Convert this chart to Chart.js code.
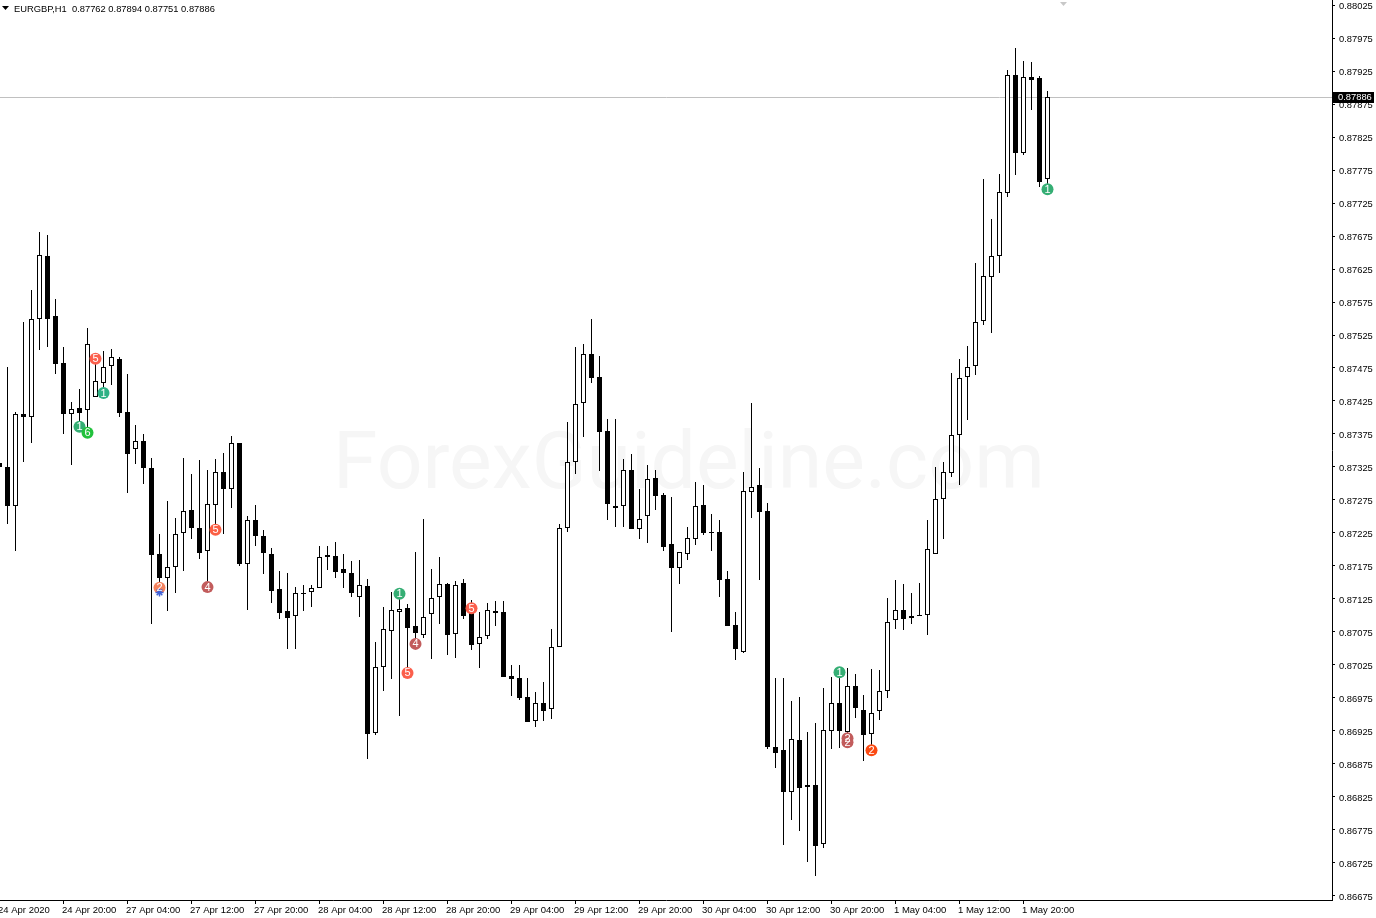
<!DOCTYPE html>
<html>
<head>
<meta charset="utf-8">
<title>EURGBP,H1</title>
<script src="https://cdn.jsdelivr.net/npm/chart.js@4/dist/chart.umd.min.js"></script>
<style>
  html, body { margin: 0; padding: 0; background: #fff; overflow: hidden; }
  canvas { display: block; }
</style>
</head>
<body>
<canvas id="chart" width="1376" height="918"></canvas>
<script>
const candleOpen = [
  0.87331,0.87325,0.87266,0.87405,0.87401,0.87549,0.87645,0.87554,0.87483,0.87405,
  0.87414,0.87411,0.87431,0.87452,0.87478,0.87489,0.87408,0.87352,0.87364,0.87323,
  0.87193,0.87157,0.87173,0.87225,0.87260,0.87233,0.87198,0.87267,0.87317,0.87292,
  0.87361,0.87178,0.87245,0.87220,0.87193,0.87140,0.87107,0.87099,0.87134,0.87136,
  0.87142,0.87189,0.87190,0.87170,0.87164,0.87128,0.87145,0.86922,0.87022,0.87077,
  0.87105,0.87111,0.87084,0.87070,0.87102,0.87128,0.87148,0.87072,0.87149,0.87119,
  0.87057,0.87069,0.87107,0.87105,0.87008,0.87005,0.86977,0.86940,0.86967,0.86958,
  0.87052,0.87233,0.87333,0.87422,0.87496,0.87461,0.87380,0.87263,0.87266,0.87320,
  0.87231,0.87251,0.87308,0.87283,0.87208,0.87172,0.87193,0.87216,0.87267,0.87227,
  0.87227,0.87155,0.87086,0.87045,0.87287,0.87298,0.87258,0.86901,0.86896,0.86833,
  0.86911,0.86840,0.86843,0.86754,0.86925,0.86967,0.86923,0.86993,0.86957,0.86920,
  0.86955,0.86986,0.87093,0.87108,0.87099,0.87101,0.87101,0.87193,0.87277,0.87316,
  0.87373,0.87461,0.87478,0.87546,0.87613,0.87645,0.87740,0.87919,0.87801,0.87916,
  0.87914,0.87762
];
const candleHigh = [
  0.87336,0.87477,0.87408,0.87545,0.87593,0.87681,0.87677,0.87580,0.87507,0.87423,
  0.87443,0.87536,0.87496,0.87501,0.87504,0.87492,0.87466,0.87389,0.87375,0.87339,
  0.87223,0.87273,0.87248,0.87339,0.87314,0.87336,0.87320,0.87337,0.87346,0.87372,
  0.87361,0.87251,0.87267,0.87230,0.87202,0.87167,0.87164,0.87143,0.87146,0.87146,
  0.87205,0.87205,0.87211,0.87193,0.87183,0.87184,0.87155,0.87060,0.87113,0.87136,
  0.87139,0.87117,0.87196,0.87246,0.87170,0.87189,0.87149,0.87152,0.87155,0.87123,
  0.87105,0.87119,0.87122,0.87122,0.87025,0.87025,0.87005,0.86984,0.86999,0.87080,
  0.87239,0.87393,0.87507,0.87511,0.87549,0.87493,0.87398,0.87398,0.87337,0.87345,
  0.87292,0.87328,0.87320,0.87286,0.87279,0.87196,0.87234,0.87302,0.87298,0.87254,
  0.87245,0.87167,0.87105,0.87317,0.87422,0.87323,0.87270,0.87005,0.87005,0.86970,
  0.86977,0.86923,0.86937,0.86990,0.87007,0.87013,0.87020,0.87011,0.86980,0.87019,
  0.87017,0.87127,0.87154,0.87148,0.87134,0.87149,0.87245,0.87325,0.87333,0.87467,
  0.87489,0.87508,0.87634,0.87761,0.87701,0.87769,0.87927,0.87960,0.87940,0.87939,
  0.87917,0.87894
];
const candleLow = [
  0.87320,0.87239,0.87198,0.87333,0.87361,0.87502,0.87507,0.87466,0.87375,0.87328,
  0.87386,0.87384,0.87431,0.87437,0.87449,0.87401,0.87286,0.87330,0.87299,0.87087,
  0.87143,0.87107,0.87134,0.87167,0.87216,0.87186,0.87149,0.87233,0.87223,0.87263,
  0.87175,0.87108,0.87205,0.87163,0.87119,0.87095,0.87049,0.87049,0.87107,0.87113,
  0.87142,0.87169,0.87157,0.87142,0.87128,0.87098,0.86883,0.86919,0.86986,0.87004,
  0.86948,0.87020,0.87063,0.87066,0.87034,0.87087,0.87040,0.87036,0.87095,0.87048,
  0.87020,0.87064,0.87084,0.87007,0.86978,0.86972,0.86939,0.86931,0.86940,0.86943,
  0.87052,0.87227,0.87314,0.87370,0.87452,0.87319,0.87245,0.87234,0.87234,0.87231,
  0.87216,0.87210,0.87260,0.87198,0.87075,0.87148,0.87184,0.87207,0.87222,0.87198,
  0.87128,0.87084,0.87033,0.87043,0.87248,0.87154,0.86898,0.86869,0.86752,0.86790,
  0.86773,0.86727,0.86705,0.86748,0.86898,0.86899,0.86916,0.86945,0.86880,0.86904,
  0.86942,0.86975,0.87080,0.87078,0.87087,0.87099,0.87070,0.87193,0.87216,0.87310,
  0.87298,0.87396,0.87464,0.87540,0.87528,0.87619,0.87734,0.87767,0.87798,0.87866,
  0.87749,0.87751
];
const candleClose = [
  0.87325,0.87266,0.87405,0.87401,0.87549,0.87646,0.87549,0.87481,0.87405,0.87413,
  0.87407,0.87511,0.87455,0.87477,0.87492,0.87407,0.87345,0.87364,0.87323,0.87192,
  0.87157,0.87173,0.87223,0.87258,0.87233,0.87195,0.87269,0.87317,0.87292,0.87361,
  0.87178,0.87245,0.87220,0.87195,0.87137,0.87104,0.87096,0.87134,0.87132,0.87142,
  0.87189,0.87192,0.87166,0.87164,0.87134,0.87146,0.86920,0.87022,0.87080,0.87108,
  0.87110,0.87081,0.87073,0.87098,0.87127,0.87148,0.87070,0.87146,0.87099,0.87055,
  0.87067,0.87108,0.87104,0.87007,0.87004,0.86975,0.86939,0.86967,0.86955,0.87052,
  0.87233,0.87333,0.87420,0.87496,0.87460,0.87378,0.87269,0.87266,0.87320,0.87231,
  0.87246,0.87307,0.87281,0.87204,0.87172,0.87196,0.87217,0.87266,0.87225,0.87226,
  0.87154,0.87084,0.87049,0.87289,0.87295,0.87257,0.86901,0.86892,0.86833,0.86913,
  0.86839,0.86843,0.86751,0.86927,0.86967,0.86925,0.86993,0.86960,0.86919,0.86952,
  0.86986,0.87090,0.87108,0.87095,0.87096,0.87099,0.87201,0.87277,0.87317,0.87373,
  0.87460,0.87477,0.87545,0.87614,0.87645,0.87742,0.87919,0.87801,0.87916,0.87911,
  0.87757,0.87886
];

// numbered signal circles on the candles
const markerIndex = [10,11,12,13,20,26,27,50,51,52,59,105,106,106,109,131];
const markerPrice = [0.87386,0.87377,0.87489,0.87437,0.87142,0.87143,0.87230,0.87133,0.87013,0.87057,0.87111,0.87014,0.86914,0.86908,0.86896,0.87746];
const markerLabel = ['1','6','5','1','2','4','5','1','5','4','5','1','2','2','2','1'];
const markerColor = ['#35ae74','#22c13c','#fb5f4c','#2fb184','#f5835f','#c25c5c','#fb5f44','#35ae74','#fb5f4c','#c25c5c','#fb5f4c','#35ae74','#c25c5c','#c25c5c','#fb4a12','#35ae74'];
// blue star under the 2 at 27 Apr 03:00
const starIndex = [20];
const starPrice = [0.87135];

const priceTicks = [
  0.86675,0.86725,0.86775,0.86825,0.86875,0.86925,0.86975,0.87025,0.87075,0.87125,
  0.87175,0.87225,0.87275,0.87325,0.87375,0.87425,0.87475,0.87525,0.87575,0.87625,
  0.87675,0.87725,0.87775,0.87825,0.87875,0.87925,0.87975,0.88025
];
const timeTickIndex = [0,8,16,24,32,40,48,56,64,72,80,88,96,104,112,120,128];
const timeLabels = [
  '24 Apr 2020','24 Apr 20:00','27 Apr 04:00','27 Apr 12:00','27 Apr 20:00','28 Apr 04:00',
  '28 Apr 12:00','28 Apr 20:00','29 Apr 04:00','29 Apr 12:00','29 Apr 20:00','30 Apr 04:00',
  '30 Apr 12:00','30 Apr 20:00','1 May 04:00','1 May 12:00','1 May 20:00'
];
const currentPrice = 0.87886;
const chartTitle = 'EURGBP,H1  0.87762 0.87894 0.87751 0.87886';
const watermark = 'ForexGuideline.com';

const uiFont = '"Liberation Sans", sans-serif';
const uiSize = 9.35;
const timeSize = 9.5;

// bars are not rounded by the library, the reference is pixel sharp
const snapPlugin = {
  id: 'snap',
  afterDatasetsUpdate(chart) {
    chart.data.datasets.forEach((ds, n) => {
      const meta = chart.getDatasetMeta(n);
      if (ds.type === 'bar') {
        meta.data.forEach(el => {
          el.y = Math.round(el.y);
          el.base = Math.round(el.base);
          if (el.base === el.y) el.base = el.y + 1;
        });
      } else if (ds.id === 'current') {
        meta.data.forEach(el => { el.y = Math.round(el.y) + 0.5; });
      }
    });
  }
};

const decorPlugin = {
  id: 'decor',
  beforeDraw(chart) {
    // nudge the axis labels, there is no option for this
    chart.scales.x.getLabelItems(chart.chartArea).forEach(it => {
      it.options.translation[0] -= 1.5;
      it.options.translation[1] += 0.5;
    });
    chart.scales.y.getLabelItems(chart.chartArea).forEach(it => {
      it.options.translation[0] += 1;
      it.options.translation[1] += 1;
    });
  },
  beforeDatasetsDraw(chart) {
    const ctx = chart.ctx;
    ctx.save();
    ctx.fillStyle = '#f6f6f6';
    ctx.font = '80.5px Roboto, sans-serif';
    ctx.textAlign = 'left';
    ctx.textBaseline = 'alphabetic';
    ctx.fillText(watermark, 333, 488);
    ctx.restore();
  },
  afterDatasetsDraw(chart) {
    const ctx = chart.ctx;
    const meta = chart.getDatasetMeta(chart.data.datasets.findIndex(d => d.id === 'markers'));
    ctx.save();
    ctx.fillStyle = '#fff';
    ctx.font = '11px ' + uiFont;
    ctx.textAlign = 'center';
    ctx.textBaseline = 'middle';
    meta.data.forEach((el, i) => ctx.fillText(markerLabel[i], el.x, el.y + 0.5));
    ctx.restore();
  },
  afterDraw(chart) {
    const ctx = chart.ctx;
    const y = chart.scales.y;
    ctx.save();
    // menu arrow and symbol line
    ctx.fillStyle = '#000';
    ctx.beginPath();
    ctx.moveTo(2, 6); ctx.lineTo(9, 6); ctx.lineTo(5.5, 10); ctx.closePath(); ctx.fill();
    ctx.font = uiSize + 'px ' + uiFont;
    ctx.textBaseline = 'middle';
    ctx.fillText(chartTitle, 14, 9);
    // chart shift marker
    ctx.fillStyle = '#c8c8c8';
    ctx.beginPath();
    ctx.moveTo(1060, 2); ctx.lineTo(1067, 2); ctx.lineTo(1063.5, 6); ctx.closePath(); ctx.fill();
    // current price tag
    const py = Math.round(y.getPixelForValue(currentPrice));
    ctx.fillStyle = '#000';
    ctx.fillRect(1333, py - 5, 41, 11);
    ctx.fillStyle = '#fff';
    ctx.fillText(currentPrice.toFixed(5), 1338, py + 0.5);
    ctx.restore();
  }
};

new Chart(document.getElementById('chart'), {
  data: {
    datasets: [
      {
        id: 'stars',
        type: 'scatter',
        order: -1,
        data: starIndex.map((x, i) => ({ x, y: starPrice[i] })),
        pointStyle: 'star',
        pointRadius: 4,
        pointBorderWidth: 1.5,
        pointBorderColor: '#3f62d8'
      },
      {
        id: 'markers',
        type: 'scatter',
        order: 0,
        data: markerIndex.map((x, i) => ({ x, y: markerPrice[i] })),
        pointRadius: 6,
        pointBorderWidth: 0,
        pointBackgroundColor: markerColor
      },
      {
        id: 'body',
        type: 'bar',
        order: 1,
        grouped: false,
        barThickness: 5,
        borderWidth: 1,
        borderSkipped: false,
        inflateAmount: 0,
        borderColor: '#000',
        backgroundColor: candleOpen.map((o, i) => candleClose[i] > o ? '#fff' : '#000'),
        data: candleOpen.map((o, i) => ({ x: i, y: [o, candleClose[i]] }))
      },
      {
        id: 'wick',
        type: 'bar',
        order: 2,
        grouped: false,
        barThickness: 1,
        borderWidth: 0,
        inflateAmount: 0,
        backgroundColor: '#000',
        data: candleLow.map((l, i) => ({ x: i, y: [l, candleHigh[i]] }))
      },
      {
        id: 'current',
        type: 'line',
        order: 3,
        data: [{ x: 0, y: currentPrice }, { x: 167, y: currentPrice }],
        borderColor: '#c0c0c0',
        borderWidth: 1,
        pointRadius: 0
      }
    ]
  },
  options: {
    responsive: false,
    animation: false,
    events: [],
    layout: { padding: 0, autoPadding: false },
    plugins: { legend: { display: false }, tooltip: { enabled: false } },
    scales: {
      x: {
        type: 'linear',
        offset: false,
        min: 0.0625,
        max: 166.5625,
        grid: { drawOnChartArea: false, tickLength: 4, tickColor: '#000', offset: false },
        border: { color: '#000' },
        ticks: {
          autoSkip: false,
          maxRotation: 0,
          align: 'start',
          padding: 0,
          color: '#000',
          font: { family: uiFont, size: timeSize },
          callback: (v, i) => timeLabels[i]
        },
        afterBuildTicks: s => { s.ticks = timeTickIndex.map(value => ({ value })); },
        afterFit: s => { s.height = 18; s.paddingLeft = 0; s.paddingRight = 0; }
      },
      y: {
        type: 'linear',
        position: 'right',
        min: 0.86668939,
        max: 0.88032576,
        grid: { drawOnChartArea: false, tickLength: 3, tickColor: '#000' },
        border: { color: '#000' },
        ticks: {
          autoSkip: false,
          padding: 3,
          color: '#000',
          font: { family: uiFont, size: uiSize },
          callback: v => v.toFixed(5)
        },
        afterBuildTicks: s => { s.ticks = priceTicks.map(value => ({ value })); },
        afterFit: s => { s.width = 44; s.paddingTop = 0; s.paddingBottom = 0; }
      }
    }
  },
  plugins: [snapPlugin, decorPlugin]
});
</script>
</body>
</html>
